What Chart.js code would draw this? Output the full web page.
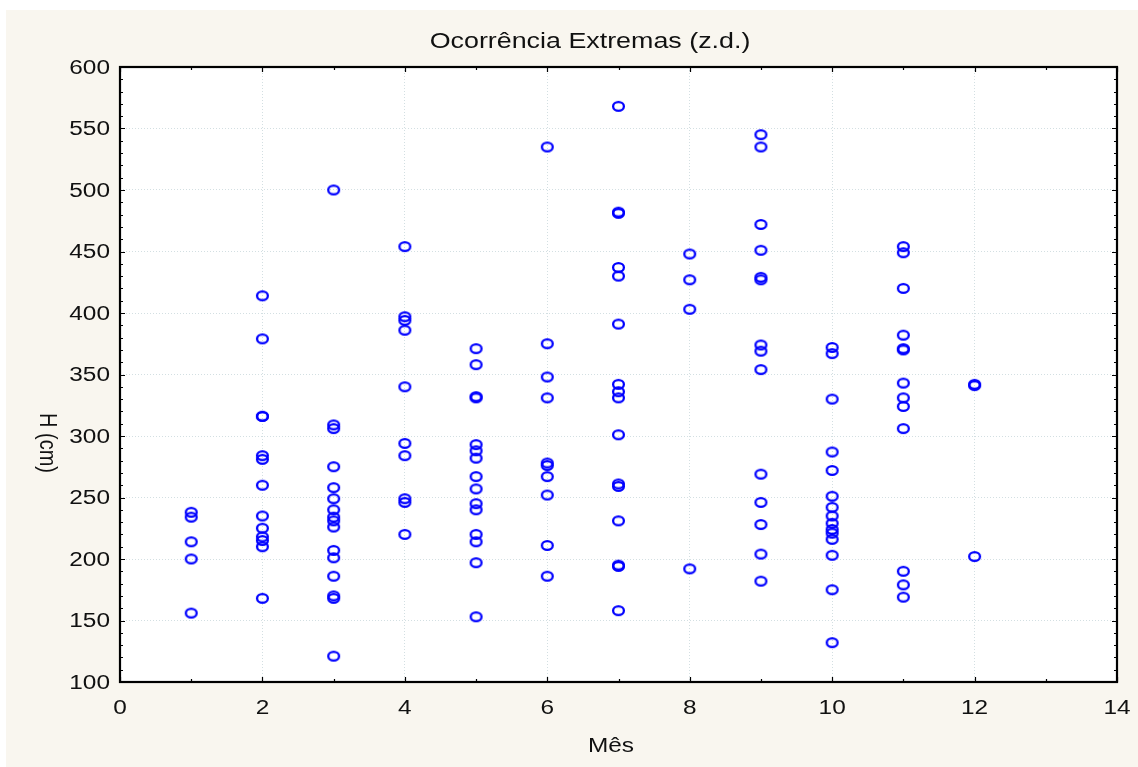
<!DOCTYPE html>
<html>
<head>
<meta charset="utf-8">
<title>Ocorrência Extremas (z.d.)</title>
<script src="https://cdn.jsdelivr.net/npm/chart.js@4/dist/chart.umd.min.js"></script>
<style>
  html, body { margin: 0; padding: 0; background: #ffffff; }
  #wrap { position: absolute; left: 6px; top: 10px; width: 1132px; height: 757px; }
</style>
</head>
<body>
<div id="wrap"><canvas id="grafico"></canvas></div>
<script>
// alturas H (cm) dos eventos extremos, por mês
const meses = [1, 2, 3, 4, 5, 6, 7, 8, 9, 10, 11, 12];
const mes01 = [238, 234, 214, 200, 156];
const mes02 = [414, 379, 316, 316, 284, 281, 260, 235, 225, 218, 215, 210, 168];
const mes03 = [500, 309, 306, 275, 258, 249, 240, 234, 231, 226, 207, 201, 186, 170, 168, 121];
const mes04 = [454, 397, 394, 386, 340, 294, 284, 249, 246, 220];
const mes05 = [371, 358, 332, 331, 293, 288, 282, 267, 257, 245, 240, 220, 214, 197, 153];
const mes06 = [535, 375, 348, 331, 278, 276, 267, 252, 211, 186];
const mes07 = [568, 482, 481, 437, 430, 391, 342, 336, 331, 301, 261, 259, 231, 195, 194, 158];
const mes08 = [448, 427, 403, 192];
const mes09 = [545, 535, 472, 451, 429, 427, 374, 369, 354, 269, 246, 228, 204, 182];
const mes10 = [372, 367, 330, 287, 272, 251, 242, 235, 229, 224, 221, 216, 203, 175, 132];
const mes11 = [454, 449, 420, 382, 371, 370, 343, 331, 324, 306, 190, 179, 169];
const mes12 = [342, 341, 202];
const alturasPorMes = [mes01, mes02, mes03, mes04, mes05, mes06, mes07, mes08, mes09, mes10, mes11, mes12];

// rótulos dos eixos
const ticksX = [0, 2, 4, 6, 8, 10, 12, 14];
const ticksY = [100, 150, 200, 250, 300, 350, 400, 450, 500, 550, 600];

const titulo = 'Ocorrência Extremas (z.d.)';
const tituloX = 'Mês';
const tituloY = 'H (cm)';

// pontos (mês, altura)
const pontos = [];
meses.forEach((m, i) => {
    alturasPorMes[i].forEach(h => pontos.push({ x: m, y: h }));
});

// marcador: elipse azul vazada
function criarMarcador() {
    const c = document.createElement('canvas');
    c.width = 15;
    c.height = 13;
    const g = c.getContext('2d');
    g.strokeStyle = '#0000ff';
    g.lineWidth = 2.3;
    g.beginPath();
    g.ellipse(7.5, 6.5, 5.4, 4.4, 0, 0, Math.PI * 2);
    g.stroke();
    return c;
}

const FONTE = '"Liberation Sans", Arial, sans-serif';
const ESTICA = 1.22; // textos ligeiramente alargados na horizontal

function texto(ctx, str, x, y, tam, alinh, rot) {
    ctx.save();
    ctx.translate(x, y);
    ctx.scale(ESTICA, 1);
    if (rot) ctx.rotate(rot);
    ctx.font = tam + 'px ' + FONTE;
    ctx.fillStyle = '#111111';
    ctx.textAlign = alinh;
    ctx.textBaseline = 'middle';
    ctx.fillText(str, 0, 0);
    ctx.restore();
}

// fundo creme e área do gráfico branca
const fundo = {
    id: 'fundo',
    beforeDraw(chart) {
        const { ctx, chartArea: a } = chart;
        ctx.save();
        ctx.fillStyle = '#f9f6ef';
        ctx.fillRect(0, 0, chart.width, chart.height);
        ctx.fillStyle = '#ffffff';
        ctx.fillRect(a.left, a.top, a.right - a.left, a.bottom - a.top);
        ctx.restore();
    }
};

// moldura, marcas internas e textos
const moldura = {
    id: 'moldura',
    afterDraw(chart) {
        const { ctx, chartArea: a } = chart;
        const sx = chart.scales.x;
        const sy = chart.scales.y;
        ctx.save();
        ctx.strokeStyle = '#000000';
        ctx.lineWidth = 1.2;
        ctx.beginPath();
        for (let v = sy.min; v <= sy.max; v += 10) {
            const p = Math.round(sy.getPixelForValue(v)) + 0.5;
            const len = (v % 50 === 0) ? 5 : 3;
            ctx.moveTo(a.left, p); ctx.lineTo(a.left + len, p);
            ctx.moveTo(a.right, p); ctx.lineTo(a.right - len, p);
        }
        for (let v = sx.min; v <= sx.max; v += 1) {
            const p = Math.round(sx.getPixelForValue(v)) + 0.5;
            const len = (v % 2 === 0) ? 5 : 3;
            ctx.moveTo(p, a.top); ctx.lineTo(p, a.top + len);
            ctx.moveTo(p, a.bottom); ctx.lineTo(p, a.bottom - len);
        }
        ctx.stroke();

        ctx.lineWidth = 2.2;
        ctx.strokeRect(a.left, a.top, a.right - a.left, a.bottom - a.top);
        ctx.restore();

        ticksY.forEach(v => texto(ctx, String(v), a.left - 10, sy.getPixelForValue(v) + 1, 20, 'right'));
        ticksX.forEach(v => texto(ctx, String(v), sx.getPixelForValue(v), a.bottom + 26, 20, 'center'));

        texto(ctx, titulo, 584, 32, 22, 'center');
        texto(ctx, tituloX, 605, 736, 20, 'center');
        texto(ctx, tituloY, 41, 433, 20, 'center', Math.PI / 2);
    }
};

window.onload = function () {
    const ctx = document.getElementById('grafico').getContext('2d');
    new Chart(ctx, {
        type: 'scatter',
        data: {
            datasets: [{
                label: tituloY,
                data: pontos,
                pointStyle: criarMarcador(),
                pointRadius: 6,
                pointHoverRadius: 6
            }]
        },
        options: {
            responsive: true,
            maintainAspectRatio: false,
            animation: false,
            layout: { padding: { left: 114, top: 57, right: 21, bottom: 85 } },
            plugins: {
                legend: { display: false },
                title: { display: false },
                tooltip: { enabled: false }
            },
            scales: {
                x: {
                    type: 'linear',
                    min: 0,
                    max: 14,
                    ticks: { stepSize: 2, display: false },
                    grid: { color: '#d3dfe2', lineWidth: 1, drawTicks: false },
                    border: { display: false, dash: [1, 2] }
                },
                y: {
                    type: 'linear',
                    min: 100,
                    max: 600,
                    ticks: { stepSize: 50, display: false },
                    grid: { color: '#d3dfe2', lineWidth: 1, drawTicks: false },
                    border: { display: false, dash: [1, 2] }
                }
            }
        },
        plugins: [fundo, moldura]
    });
};
</script>
</body>
</html>
